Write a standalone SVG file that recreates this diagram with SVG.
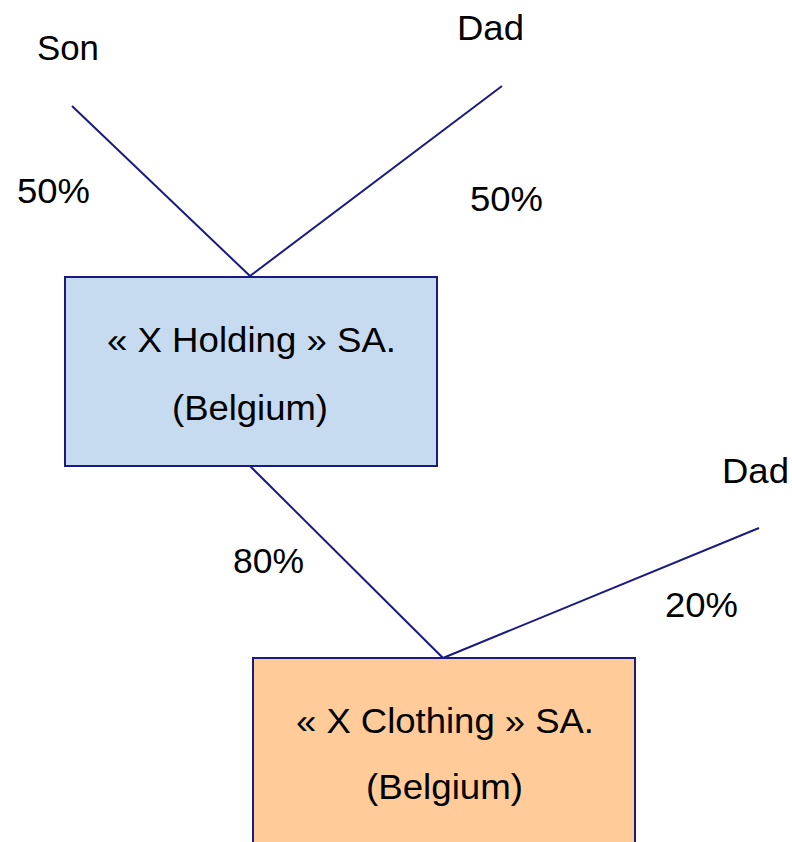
<svg xmlns="http://www.w3.org/2000/svg" width="792" height="842" viewBox="0 0 792 842">
<style>
.t{font-family:"Liberation Sans",Arial,sans-serif;font-size:35px;fill:#000}
.box{stroke:#1a1a80;stroke-width:2}
.ln{stroke:#1a1a80;stroke-width:2;fill:none}
</style>
<rect width="792" height="842" fill="#fff"/>
<g id="connectors">
<line class="ln" x1="72" y1="106" x2="250" y2="276"/>
<line class="ln" x1="502" y1="86" x2="250" y2="276"/>
<line class="ln" x1="250" y1="466" x2="443" y2="658"/>
<line class="ln" x1="759" y1="528" x2="443" y2="658"/>
</g>
<g id="labels">
<text class="t" x="37" y="60" textLength="62" lengthAdjust="spacingAndGlyphs">Son</text>
<text class="t" x="457" y="40" textLength="67" lengthAdjust="spacingAndGlyphs">Dad</text>
<text class="t" x="17" y="203" textLength="73" lengthAdjust="spacingAndGlyphs">50%</text>
<text class="t" x="470" y="211" textLength="73" lengthAdjust="spacingAndGlyphs">50%</text>
<text class="t" x="722" y="483" textLength="67" lengthAdjust="spacingAndGlyphs">Dad</text>
<text class="t" x="233" y="573" textLength="71" lengthAdjust="spacingAndGlyphs">80%</text>
<text class="t" x="665" y="617" textLength="73" lengthAdjust="spacingAndGlyphs">20%</text>
</g>
<g id="holding">
<rect class="box" x="65" y="277" width="372" height="189" fill="#c6dbef"/>
<text class="t" x="107" y="352" textLength="289" lengthAdjust="spacingAndGlyphs">« X Holding » SA.</text>
<text class="t" x="172" y="420" textLength="156" lengthAdjust="spacingAndGlyphs">(Belgium)</text>
</g>
<g id="clothing">
<rect class="box" x="253" y="658" width="382" height="200" fill="#ffcc99"/>
<text class="t" x="296" y="733" textLength="298" lengthAdjust="spacingAndGlyphs">« X Clothing » SA.</text>
<text class="t" x="366" y="799" textLength="157" lengthAdjust="spacingAndGlyphs">(Belgium)</text>
</g>
</svg>
